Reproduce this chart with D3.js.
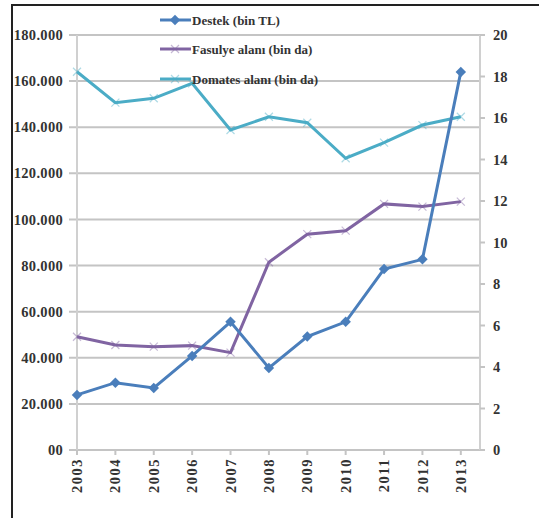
<!DOCTYPE html>
<html>
<head>
<meta charset="utf-8">
<script src="https://cdn.jsdelivr.net/npm/d3@7"></script>
<style>
  body { margin: 0; background: #fff; }
  text { font-family: "Liberation Serif", serif; font-weight: bold; fill: #333; }
</style>
</head>
<body>
<div id="canvas"></div>
<script>
"use strict"

/* chart data */
let years = [2003, 2004, 2005, 2006, 2007, 2008, 2009, 2010, 2011, 2012, 2013];
let destek = [23900, 29200, 26900, 40800, 55600, 35600, 49200, 55600, 78500, 82700, 164000];
let fasulye = [5.46, 5.06, 4.98, 5.03, 4.69, 9.05, 10.4, 10.57, 11.86, 11.73, 11.97];
let domates = [18.23, 16.74, 16.95, 17.67, 15.42, 16.06, 15.77, 14.06, 14.81, 15.66, 16.06];
let leftTicks = [0, 20000, 40000, 60000, 80000, 100000, 120000, 140000, 160000, 180000];
let leftTickLabels = ["00", "20.000", "40.000", "60.000", "80.000", "100.000", "120.000", "140.000", "160.000", "180.000"];
let rightTicks = [0, 2, 4, 6, 8, 10, 12, 14, 16, 18, 20];
let seriesNames = ["Destek (bin TL)", "Fasulye alanı (bin da)", "Domates alanı (bin da)"];

/* drawing config */
let svgWidth = 539;
let svgHeight = 518;
let plotLeft = 77, plotRight = 480, plotTop = 35, plotBottom = 450;

let svg = d3.select("#canvas")
    .append("svg")
    .attr("width", svgWidth)
    .attr("height", svgHeight);

/* outer frame */
svg.append("rect")
    .attr("x", 12)
    .attr("y", 5)
    .attr("width", 540)
    .attr("height", 530)
    .attr("fill", "none")
    .attr("stroke", "#222")
    .attr("stroke-width", 2);

let xScale = d3.scaleLinear()
    .domain([2003, 2013.5])
    .range([plotLeft, plotRight]);

let yLeft = d3.scaleLinear()
    .domain([0, 180000])
    .range([plotBottom, plotTop]);

let yRight = d3.scaleLinear()
    .domain([0, 20])
    .range([plotBottom, plotTop]);

/* gridlines */
svg.selectAll(".grid")
    .data(leftTicks)
    .join("line")
    .attr("x1", plotLeft - 8)
    .attr("x2", plotRight)
    .attr("y1", d => yLeft(d))
    .attr("y2", d => yLeft(d))
    .attr("stroke", "#c4c4c4")
    .attr("stroke-width", 2);

/* axis lines */
svg.append("line")
    .attr("x1", plotLeft).attr("x2", plotLeft)
    .attr("y1", plotTop).attr("y2", plotBottom)
    .attr("stroke", "#d0d0d0").attr("stroke-width", 2);
svg.append("line")
    .attr("x1", plotRight).attr("x2", plotRight)
    .attr("y1", plotTop).attr("y2", plotBottom)
    .attr("stroke", "#d0d0d0").attr("stroke-width", 2);

/* left tick labels */
svg.selectAll(".ltick")
    .data(leftTicks)
    .join("text")
    .attr("x", 63)
    .attr("y", d => yLeft(d))
    .attr("dy", "0.35em")
    .attr("text-anchor", "end")
    .style("font-size", "14.5px")
    .style("letter-spacing", "0.3px")
    .text((d, i) => leftTickLabels[i]);

/* right ticks */
svg.selectAll(".rtickmark")
    .data(rightTicks)
    .join("line")
    .attr("x1", plotRight)
    .attr("x2", plotRight + 5)
    .attr("y1", d => yRight(d))
    .attr("y2", d => yRight(d))
    .attr("stroke", "#c4c4c4")
    .attr("stroke-width", 2);

svg.selectAll(".rtick")
    .data(rightTicks)
    .join("text")
    .attr("x", 493)
    .attr("y", d => yRight(d))
    .attr("dy", "0.35em")
    .style("font-size", "14.5px")
    .text(d => d);

/* x ticks and labels */
svg.selectAll(".xtickmark")
    .data(years)
    .join("line")
    .attr("x1", d => xScale(d))
    .attr("x2", d => xScale(d))
    .attr("y1", plotBottom)
    .attr("y2", plotBottom + 5)
    .attr("stroke", "#c4c4c4")
    .attr("stroke-width", 2);

svg.selectAll(".xtick")
    .data(years)
    .join("text")
    .attr("transform", d => "translate(" + xScale(d) + "," + (plotBottom + 8) + ") rotate(-90)")
    .attr("text-anchor", "end")
    .attr("dy", "0.35em")
    .style("font-size", "14.5px")
    .style("letter-spacing", "1.5px")
    .text(d => d);

/* series lines */
let colors = ["#4a7ebb", "#8064a2", "#4bacc6"];

let lineLeft = d3.line()
    .x((d, i) => xScale(years[i]))
    .y(d => yLeft(d));
let lineRight = d3.line()
    .x((d, i) => xScale(years[i]))
    .y(d => yRight(d));

svg.append("path")
    .datum(fasulye)
    .attr("d", lineRight)
    .attr("fill", "none")
    .attr("stroke", colors[1])
    .attr("stroke-width", 3);

svg.append("path")
    .datum(domates)
    .attr("d", lineRight)
    .attr("fill", "none")
    .attr("stroke", colors[2])
    .attr("stroke-width", 3);

svg.append("path")
    .datum(destek)
    .attr("d", lineLeft)
    .attr("fill", "none")
    .attr("stroke", colors[0])
    .attr("stroke-width", 3);

/* markers */
function xMark(g, x, y, color) {
    g.append("path")
        .attr("d", "M" + (x - 4) + "," + (y - 4) + "L" + (x + 4) + "," + (y + 4) +
                   "M" + (x - 4) + "," + (y + 4) + "L" + (x + 4) + "," + (y - 4))
        .attr("stroke", color)
        .attr("stroke-opacity", 0.45)
        .attr("stroke-width", 1.2);
}

fasulye.forEach((d, i) => xMark(svg, xScale(years[i]), yRight(d), colors[1]));
domates.forEach((d, i) => {
    xMark(svg, xScale(years[i]), yRight(d), colors[2]);
});

let diamond = d3.symbol().type(d3.symbolSquare).size(55);
svg.selectAll(".dmark")
    .data(destek)
    .join("path")
    .attr("d", diamond)
    .attr("transform", (d, i) => "translate(" + xScale(years[i]) + "," + yLeft(d) + ") rotate(45)")
    .attr("fill", colors[0]);

/* legend */
let legendY = [20, 49, 79];
seriesNames.forEach((name, i) => {
    svg.append("line")
        .attr("x1", 160).attr("x2", 191)
        .attr("y1", legendY[i]).attr("y2", legendY[i])
        .attr("stroke", colors[i])
        .attr("stroke-width", 3);
    if (i === 0) {
        svg.append("path")
            .attr("d", diamond)
            .attr("transform", "translate(175," + legendY[i] + ") rotate(45)")
            .attr("fill", colors[0]);
    } else {
        xMark(svg, 175, legendY[i], colors[i]);
    }
    svg.append("text")
        .attr("x", 192)
        .attr("y", legendY[i])
        .attr("dy", "0.35em")
        .style("font-size", "13px")
        .text(name);
});
</script>
</body>
</html>
